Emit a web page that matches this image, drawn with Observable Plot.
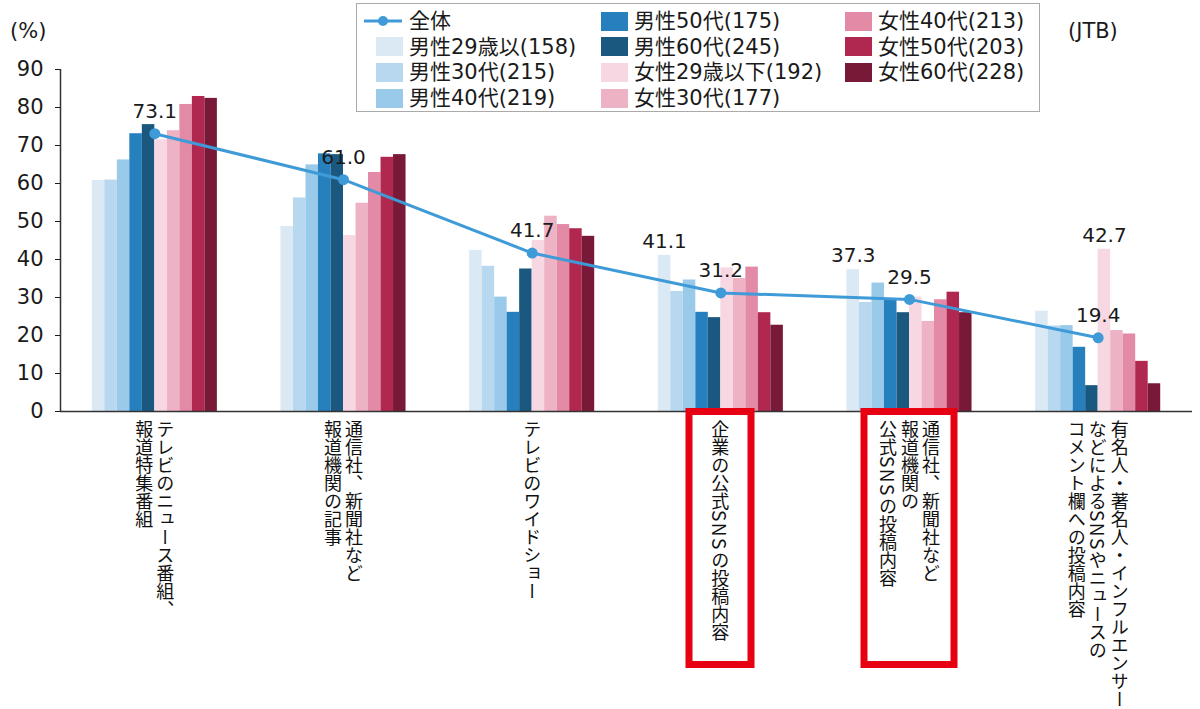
<!DOCTYPE html>
<html><head><meta charset="utf-8">
<script src="https://cdn.jsdelivr.net/npm/d3@7"></script>
<script src="https://cdn.jsdelivr.net/npm/@observablehq/plot@0.6"></script>
<style>
body{margin:0;background:#fff;font-family:"Noto Sans CJK JP","Noto Sans",sans-serif;color:#1a1a1a;}
#wrap{position:relative;width:1200px;height:709px;overflow:hidden;}
#wrap svg{position:absolute;left:0;top:0;}
.note{position:absolute;font-family:"DejaVu Sans",sans-serif;font-size:21px;line-height:24px;}
.legend{position:absolute;left:356px;top:3px;width:684px;height:109px;border:1.5px solid #aaa;box-sizing:border-box;background:#fff;}
.li{position:absolute;font-family:"DejaVu Sans","Noto Sans CJK JP",sans-serif;font-size:21px;line-height:24px;white-space:nowrap;}
.sw{position:absolute;width:27px;height:19px;}
.xl{position:absolute;transform:translateX(-50%);}
.xl .t{writing-mode:vertical-rl;font-size:18px;line-height:21px;white-space:nowrap;color:#111;}
.xl.hl{border:7px solid #e60012;box-sizing:border-box;height:260px;display:flex;justify-content:center;padding-top:5px;}
.lat{font-size:19px;letter-spacing:0.08em;}
</style></head>
<body><div id="wrap"></div>
<script>
// ---- data ----
const categories = [
  "テレビのニュース番組、\n報道特集番組",
  "通信社、新聞社など\n報道機関の記事",
  "テレビのワイドショー",
  "企業の公式SNSの投稿内容",
  "通信社、新聞社など\n報道機関の\n公式SNSの投稿内容",
  "有名人・著名人・インフルエンサー\nなどによるSNSやニュースの\nコメント欄への投稿内容"
];
const totalName = "全体";
const seriesNames = ["男性29歳以(158)","男性30代(215)","男性40代(219)","男性50代(175)","男性60代(245)",
  "女性29歳以下(192)","女性30代(177)","女性40代(213)","女性50代(203)","女性60代(228)"];
const total    = [73.1, 61.0, 41.7, 31.2, 29.5, 19.4];
const male29   = [60.8, 48.7, 42.4, 41.1, 37.3, 26.4];
const male30   = [60.9, 56.2, 38.2, 31.6, 28.7, 22.5];
const male40   = [66.2, 64.9, 30.1, 34.6, 33.8, 22.6];
const male50   = [73.1, 67.8, 26.1, 26.1, 29.4, 16.9];
const male60   = [75.5, 67.6, 37.5, 24.7, 26.0, 6.8];
const female29 = [71.5, 46.3, 45.0, 37.8, 30.1, 42.7];
const female30 = [73.9, 54.8, 51.4, 35.0, 23.7, 21.3];
const female40 = [80.8, 62.9, 49.2, 38.0, 29.4, 20.4];
const female50 = [82.9, 66.9, 48.1, 26.0, 31.4, 13.2];
const female60 = [82.4, 67.6, 46.1, 22.7, 26.0, 7.3];
const yTicks = [0,10,20,30,40,50,60,70,80,90];
const barLabels = [[3,0],[4,0],[5,5]]; // [category, series] of labelled bars
const highlighted = [3,4];
const unitLabel = "(%)";
const sourceLabel = "(JTB)";

// ---- styles ----
const seriesColors = ["#dbe9f5","#b8d8ef","#9acaea","#2680be","#1a5880",
  "#f7d8e2","#eeb2c5","#e38aa6","#b02850","#781a37"];
const lineColor = "#3f9bd7";
const numFont = '"DejaVu Sans",sans-serif';
const barFrac = 0.0663;        // bar width as a fraction of a category step
const hlWidth = {3: 69, 4: 97}; // red box widths
const legendCols = [19, 244, 488];

const seriesValues = [male29,male30,male40,male50,male60,female29,female30,female40,female50,female60];
const bars = [];
seriesValues.forEach((vals, s) => vals.forEach((v, i) => {
  const x1 = i - 5*barFrac + s*barFrac;
  bars.push({i, series: seriesNames[s], value: v, x1, x2: x1 + barFrac, xc: x1 + barFrac/2});
}));
const totalRows = total.map((v, i) => ({i, value: v}));
const barLabelRows = barLabels.map(([i, s]) => bars.find(b => b.i === i && b.series === seriesNames[s]));

const plot = Plot.plot({
  width: 1200, height: 709,
  marginLeft: 60, marginRight: 8, marginTop: 69, marginBottom: 298,
  style: {fontFamily: '"Noto Sans CJK JP","Noto Sans",sans-serif', fontSize: "19px", color: "#1a1a1a", background: "transparent"},
  x: {type: "linear", domain: [-0.5, 5.5], axis: null},
  y: {domain: [0, 90], ticks: yTicks, tickSize: 5, tickPadding: 11, label: null, tickFormat: () => ""},
  color: {domain: seriesNames, range: seriesColors},
  marks: [
    Plot.rect(bars, {x1: "x1", x2: "x2", y1: () => 0, y2: "value", fill: "series"}),
    Plot.ruleY([0], {stroke: "#333", strokeWidth: 1.5}),
    Plot.ruleX([-0.5], {stroke: "#333", strokeWidth: 1.5}),
    Plot.text(yTicks, {x: () => -0.5, y: d => d, text: d => String(d), textAnchor: "end", dx: -17, fontSize: 21, fontFamily: numFont, fill: "#1a1a1a"}),
    Plot.line(totalRows, {x: "i", y: "value", stroke: lineColor, strokeWidth: 3}),
    Plot.dot(totalRows, {x: "i", y: "value", r: 5.5, fill: lineColor, stroke: "none"}),
    Plot.text(totalRows, {x: "i", y: "value", text: d => d.value.toFixed(1), dy: -22, fontSize: 20, fontFamily: numFont, fill: "#1a1a1a"}),
    Plot.text(barLabelRows, {x: "xc", y: "value", text: d => d.value.toFixed(1), dy: -14, fontSize: 20, fontFamily: numFont, fill: "#1a1a1a"})
  ]
});
const wrap = document.getElementById("wrap");
wrap.appendChild(plot);

function addDiv(cls, html, css) {
  const d = document.createElement("div");
  d.className = cls; d.innerHTML = html; Object.assign(d.style, css); wrap.appendChild(d); return d;
}
addDiv("note", unitLabel, {left: "10px", top: "19px"});
addDiv("note", sourceLabel, {left: "1068px", top: "19px"});

// legend
const legend = addDiv("legend", "", {});
const legendItems = [{name: totalName, line: true}, ...seriesNames.map((n, s) => ({name: n, color: seriesColors[s]}))];
legendItems.forEach((it, k) => {
  const c = Math.floor(k / 4), r = k % 4;
  const cy = 17 + r * 25.7;
  const sx = legendCols[c];
  if (it.line) {
    const svg = `<svg width="40" height="14" style="position:absolute;left:${sx-12}px;top:${cy-7}px"><line x1="0" y1="7" x2="38" y2="7" stroke="${lineColor}" stroke-width="3"/><circle cx="19" cy="7" r="5" fill="${lineColor}"/></svg>`;
    legend.insertAdjacentHTML("beforeend", svg);
  } else {
    const sw = document.createElement("div");
    sw.className = "sw"; sw.style.left = sx + "px"; sw.style.top = (cy - 9.5) + "px"; sw.style.background = it.color;
    legend.appendChild(sw);
  }
  const t = document.createElement("div");
  t.className = "li"; t.textContent = it.name;
  t.style.left = (sx + 33) + "px"; t.style.top = (cy - 12) + "px";
  legend.appendChild(t);
});

// x category labels (vertical text)
const xs = plot.scale("x");
categories.forEach((cat, i) => {
  const cx = xs.apply(i);
  const html = cat.split("\n").map(l => l.replace(/SNS/g, '<span class="lat">SNS</span>')).join("<br>");
  const hl = highlighted.includes(i);
  const d = addDiv("xl" + (hl ? " hl" : ""), `<div class="t">${html}</div>`, {left: cx + "px", top: (hl ? 408 : 420) + "px"});
  if (hl) d.style.width = hlWidth[i] + "px";
});
</script>
</body></html>
